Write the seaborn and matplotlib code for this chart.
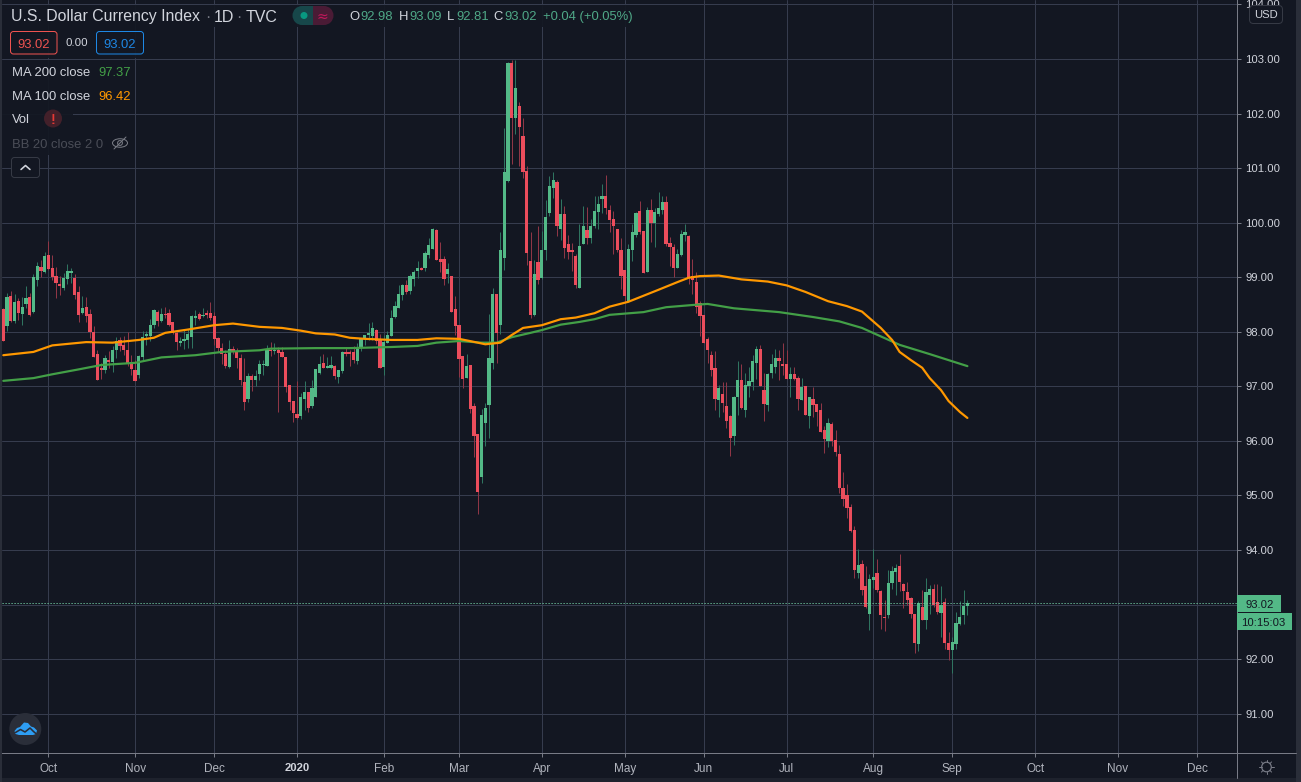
import numpy as np
import pandas as pd
import matplotlib
matplotlib.use("Agg")
import matplotlib.pyplot as plt
from matplotlib.patches import Rectangle, FancyBboxPatch, Circle, Ellipse, Polygon
import seaborn as sns

# ---------- data ----------
open_ = [
98.42,98.11,98.66,98.20,98.57,98.33,98.50,98.64,98.37,98.95,
99.19,99.10,99.41,99.17,99.03,98.88,98.81,98.97,99.08,98.99,
98.72,98.35,98.46,98.33,98.00,97.60,97.34,97.30,97.49,97.45,
97.67,97.85,97.76,97.67,97.45,97.30,97.21,97.54,97.93,97.93,
98.13,98.37,98.20,98.33,98.35,98.17,97.98,97.80,97.83,97.85,
97.91,98.26,98.33,98.28,98.34,98.35,98.28,97.89,97.71,97.60,
97.36,97.69,97.65,97.52,97.08,96.77,97.18,97.12,97.23,97.39,
97.37,97.67,97.65,97.67,97.63,97.54,97.03,96.73,96.49,96.46,
96.77,96.90,96.64,96.81,97.24,97.43,97.34,97.34,97.37,97.17,
97.28,97.63,97.63,97.63,97.47,97.70,97.87,97.94,97.92,98.03,
97.87,97.36,97.80,97.92,98.27,98.44,98.67,98.86,98.75,98.97,
99.11,99.17,99.17,99.41,99.52,99.87,99.33,99.33,99.06,99.02,
98.42,98.13,97.56,97.15,97.39,96.63,96.12,95.33,96.32,96.65,
97.43,98.70,98.13,99.36,100.77,102.93,101.92,102.14,101.59,100.95,
99.30,98.30,99.27,98.99,99.50,100.18,100.64,100.75,99.89,100.15,
99.60,99.49,99.39,98.81,99.61,99.87,99.71,99.93,100.20,100.44,
100.49,100.24,100.06,99.89,99.49,99.14,98.57,99.49,99.78,100.22,
99.84,99.10,100.24,100.00,100.16,100.24,100.37,99.63,99.56,99.16,
99.41,99.78,99.76,99.02,98.92,98.52,98.30,97.86,97.58,97.33,
96.74,96.85,96.63,96.45,96.08,96.80,97.11,96.56,97.00,97.07,
97.42,97.68,96.94,96.65,97.24,97.35,97.51,97.40,97.40,97.14,
97.22,97.16,96.74,97.00,96.45,96.76,96.67,96.56,96.19,95.99,
96.30,96.02,95.75,95.14,95.00,94.78,94.36,93.57,93.75,93.33,
92.82,93.44,93.57,93.24,92.78,92.80,93.39,93.59,93.70,93.37,
93.22,93.11,92.83,92.27,92.96,92.71,93.18,93.29,93.04,92.85,
93.04,92.30,92.17,92.27,92.65,92.80,92.98]
high = [
98.43,98.71,98.75,98.69,98.62,98.64,98.84,98.71,99.06,99.28,
99.32,99.46,99.67,99.41,99.19,99.03,99.08,99.25,99.17,99.06,
98.83,98.66,98.64,98.42,98.11,97.67,97.43,97.57,97.65,97.73,
97.91,97.91,97.93,98.00,97.58,97.49,97.58,98.02,98.01,98.24,
98.42,98.40,98.43,98.45,98.42,98.17,98.04,97.91,98.05,98.05,
98.31,98.39,98.36,98.43,98.39,98.55,98.37,97.91,97.79,97.67,
97.85,97.73,97.70,97.60,97.52,97.24,97.23,97.30,97.49,97.48,
97.76,97.81,97.79,97.72,97.72,97.54,97.03,96.73,97.09,96.88,
97.10,96.90,97.12,97.32,97.56,97.59,97.54,97.56,97.39,97.30,
97.65,97.72,97.67,97.73,97.79,97.89,97.94,98.16,98.18,98.05,
97.96,97.94,98.02,98.40,98.57,98.86,98.88,98.95,99.06,99.13,
99.29,99.19,99.48,99.72,99.90,99.88,99.65,99.39,99.26,99.02,
98.66,98.13,97.56,97.59,97.39,96.70,96.12,96.59,96.70,98.32,
98.81,98.70,99.83,101.74,102.95,102.99,102.99,102.22,101.91,101.03,
99.82,99.32,99.94,99.85,100.42,100.86,100.93,100.79,100.44,100.31,
99.78,99.63,99.43,99.98,100.31,100.29,100.07,100.48,100.49,100.70,
100.88,100.33,100.22,99.89,99.72,99.14,99.60,99.98,100.20,100.40,
99.84,100.29,100.44,100.27,100.57,100.49,100.48,99.74,99.60,99.52,
99.87,99.98,99.78,99.34,99.10,98.56,98.30,97.91,97.64,97.64,
97.03,97.07,97.07,96.47,96.83,97.46,97.40,97.25,97.35,97.58,
97.73,97.75,97.25,97.24,97.60,97.69,97.66,97.80,97.66,97.35,
97.36,97.18,97.16,97.00,96.81,96.98,96.67,96.70,96.27,96.41,
96.34,96.19,95.93,95.42,95.20,94.85,94.43,94.01,93.81,93.70,
93.55,94.01,93.84,93.26,93.09,93.64,93.70,93.75,93.92,93.40,
93.42,93.13,92.83,93.06,93.26,93.48,93.35,93.37,93.37,93.33,
93.11,92.49,92.41,92.87,93.07,93.26,93.09]
low = [
97.83,98.02,98.17,98.16,98.21,98.13,98.44,98.28,98.35,98.83,
99.01,99.08,99.14,98.94,98.62,98.68,98.76,98.88,98.89,98.60,
98.18,98.33,98.18,97.89,97.54,97.12,97.14,97.25,97.34,97.27,
97.52,97.65,97.58,97.37,97.21,97.10,97.16,97.49,97.76,97.83,
98.06,98.11,98.18,98.25,98.10,97.95,97.67,97.74,97.69,97.71,
97.70,98.13,98.22,98.27,98.25,98.22,97.76,97.62,97.41,97.34,
97.33,97.60,97.33,97.03,96.57,96.71,96.92,97.00,97.12,97.21,
97.37,97.56,97.59,96.53,97.54,96.90,96.57,96.35,96.40,96.40,
96.57,96.53,96.60,96.81,97.23,97.34,97.34,97.32,97.14,97.06,
97.24,97.56,97.37,97.43,97.41,97.65,97.76,97.85,97.85,97.78,
97.34,97.21,97.79,97.92,98.25,98.44,98.58,98.69,98.69,98.84,
98.99,99.13,99.11,99.35,99.52,99.32,99.10,98.86,98.89,98.36,
97.94,97.17,96.97,97.15,96.51,95.70,94.65,95.22,95.90,96.06,
97.32,97.43,97.96,99.14,100.75,101.08,101.63,101.04,100.82,99.23,
98.26,98.28,98.88,98.96,99.32,100.13,100.46,99.76,99.69,99.36,
99.34,99.12,98.81,98.81,99.60,99.61,99.63,99.91,99.89,100.18,
100.16,99.82,99.43,99.47,98.79,98.55,98.55,99.29,99.74,99.80,
99.08,99.10,99.65,99.56,100.13,100.16,99.58,99.21,99.00,99.16,
99.39,99.67,98.88,98.70,98.34,97.93,97.80,97.42,97.18,96.56,
96.43,96.52,96.23,95.72,95.93,96.48,96.58,96.43,96.80,96.94,
97.14,97.00,96.37,96.54,97.16,97.25,97.11,97.20,97.14,96.80,
97.11,96.56,96.74,96.47,96.23,96.43,96.27,96.17,95.77,95.88,
95.90,95.73,95.04,94.81,94.58,94.32,93.48,93.48,93.17,92.93,
92.54,93.31,93.22,92.56,92.51,92.76,93.29,93.17,93.24,92.93,
93.00,92.76,92.12,92.14,92.72,92.56,92.83,92.96,92.83,92.41,
92.19,91.99,91.74,92.19,92.63,92.65,92.81]
close = [
97.83,98.64,98.20,98.55,98.35,98.46,98.62,98.31,99.01,99.21,
99.12,99.39,99.15,99.01,98.89,98.83,98.99,99.12,99.12,98.68,
98.31,98.44,98.29,98.00,97.54,97.12,97.30,97.52,97.45,97.67,
97.83,97.73,97.67,97.43,97.32,97.10,97.56,97.91,97.95,98.13,
98.40,98.20,98.33,98.31,98.13,97.98,97.82,97.83,97.87,97.96,
98.28,98.29,98.24,98.31,98.31,98.26,97.87,97.71,97.60,97.38,
97.69,97.63,97.51,97.12,96.72,97.18,97.12,97.19,97.41,97.41,
97.69,97.65,97.67,97.61,97.54,96.99,96.71,96.51,96.42,96.81,
96.90,96.60,96.97,97.32,97.41,97.34,97.37,97.39,97.19,97.30,
97.63,97.59,97.59,97.48,97.69,97.89,97.94,97.98,98.07,97.83,
97.34,97.81,97.94,98.25,98.47,98.69,98.86,98.73,99.02,99.10,
99.17,99.13,99.45,99.59,99.88,99.32,99.28,98.97,99.15,98.36,
98.11,97.50,97.14,97.37,96.59,96.08,95.06,96.48,96.61,97.51,
98.70,97.98,99.50,100.92,102.93,101.92,102.47,101.76,100.92,99.45,
98.30,99.05,98.94,99.49,100.11,100.68,100.79,99.94,100.16,99.54,
99.47,99.47,98.85,99.58,99.94,99.71,99.94,100.22,100.35,100.49,
100.27,100.04,99.94,99.49,99.03,98.66,99.52,99.82,100.18,99.82,
99.08,100.24,100.00,100.20,100.27,100.37,99.60,99.56,99.16,99.43,
99.80,99.82,98.99,98.94,98.46,98.28,97.80,97.67,97.29,96.76,
96.96,96.70,96.37,96.05,96.81,97.11,96.61,97.03,97.09,97.46,
97.68,97.00,96.67,97.22,97.40,97.51,97.46,97.38,97.14,97.22,
97.14,96.76,96.98,96.47,96.80,96.65,96.52,96.17,96.03,96.32,
96.00,95.80,95.14,94.94,94.76,94.34,93.64,93.73,93.26,92.96,
93.46,93.51,93.26,92.80,92.76,93.40,93.62,93.66,93.42,93.24,
93.09,92.82,92.30,93.02,92.72,93.22,93.29,93.00,92.87,93.00,
92.29,92.16,92.32,92.67,92.78,92.98,93.02]

ma100_days = [0,8,13,22,29,36,40,43,49,56,61,68,74,79,83,88,92,96,103,110,115,121,
              126,128,132,135,138,143,148,152,157,161,166,170,174,179,182,185,190,
              196,203,208,213,219,224,228,230,233,236,238,241,244,246,249,251,254,256]
ma100_vals = [97.57,97.63,97.75,97.81,97.80,97.85,97.89,97.98,98.04,98.12,98.15,98.09,
              98.07,98.02,97.97,97.95,97.89,97.87,97.85,97.85,97.88,97.87,
              97.80,97.77,97.80,97.94,98.07,98.12,98.23,98.26,98.34,98.46,98.55,98.66,
              98.77,98.91,98.99,99.02,99.03,98.96,98.92,98.85,98.73,98.56,98.47,98.37,
              98.25,98.07,97.85,97.63,97.48,97.34,97.15,96.93,96.73,96.53,96.42]
ma200_days = [0,8,13,20,26,35,42,51,58,68,71,83,92,103,110,115,121,127,131,135,140,143,
              148,153,157,161,170,176,183,187,194,206,215,222,228,238,246,256]
ma200_vals = [97.10,97.15,97.22,97.31,97.39,97.43,97.53,97.57,97.63,97.66,97.69,97.70,
              97.70,97.72,97.74,97.80,97.83,97.80,97.80,97.90,97.98,98.03,98.13,98.18,
              98.23,98.31,98.36,98.45,98.49,98.51,98.43,98.36,98.27,98.19,98.07,97.76,
              97.59,97.37]

x_tick_days = [12,35,56,78,101,121,143,165,186,208,231,252,274,296,317]
x_tick_labels = ["Oct","Nov","Dec","2020","Feb","Mar","Apr","May","Jun","Jul","Aug","Sep","Oct","Nov","Dec"]
y_ticks = list(range(91, 105))
last_price = 93.02

# ---------- style ----------
BG = "#131722"; GRID = "#363c4e"; AXIS = "#787b86"; TXT = "#d1d4dc"
UP = "#53b987"; DOWN = "#eb4d5c"; UPW = "#2f7460"; DOWNW = "#8f3646"
sns.set_theme(style="dark", rc={"axes.facecolor": BG, "figure.facecolor": BG})
plt.rcParams["font.family"] = ["Liberation Sans", "DejaVu Sans"]
PT = 0.72  # points per pixel at dpi 100

W, H = 1301, 782
fig = plt.figure(figsize=(W/100, H/100), dpi=100, facecolor=BG)
L_, R_, T_, B_ = 2.0, 1236.5, 0.0, 752.5
ax = fig.add_axes([L_/W, 1-B_/H, (R_-L_)/W, (B_-T_)/H], facecolor=BG)

# ---------- candles ----------
days = np.arange(len(close))
o, h, l, c = map(np.array, (open_, high, low, close))
up = c >= o
ax.vlines(days, l, h, colors=[UPW if u else DOWNW for u in up], linewidth=1*PT, zorder=2)
ax.bar(days, np.maximum(np.abs(c-o), 0.02), bottom=np.minimum(o, c), width=0.86,
       color=[UP if u else DOWN for u in up], linewidth=0, zorder=3)

# ---------- moving averages ----------
sns.lineplot(data=pd.DataFrame({"d": ma200_days, "v": ma200_vals}), x="d", y="v", ax=ax,
             color="#43a047", linewidth=2.2*PT, zorder=4, errorbar=None)
sns.lineplot(data=pd.DataFrame({"d": ma100_days, "v": ma100_vals}), x="d", y="v", ax=ax,
             color="#ff9800", linewidth=2.2*PT, zorder=5, errorbar=None)
ax.axhline(last_price, color="#6fc9a0", linestyle=(0, (1.2, 1.8)), linewidth=1*PT, zorder=6)

# ---------- axes ----------
ax.set_xlim((L_-3.3)/3.766, (R_-3.3)/3.766)
ax.set_ylim(103-(B_-59)/54.55, 103-(T_-59)/54.55)
ax.set_xlabel(""); ax.set_ylabel("")
ax.set_xticks(x_tick_days); ax.set_xticklabels(x_tick_labels)
ax.set_yticks(y_ticks); ax.set_yticklabels([f"{v:.2f}" for v in y_ticks])
ax.yaxis.tick_right()
ax.grid(True, color=GRID, linewidth=1*PT, zorder=0)
ax.set_axisbelow(True)
ax.tick_params(axis="y", length=4*PT, width=1*PT, color=AXIS, labelcolor=TXT,
               labelsize=11.2*PT, pad=5*PT, right=True, left=False)
ax.tick_params(axis="x", length=4*PT, width=1*PT, color=AXIS, labelcolor="#b2b5be",
               labelsize=11.8*PT, pad=6.2*PT, bottom=True)
for lab in ax.get_xticklabels():
    if lab.get_text() == "2020":
        lab.set_fontweight("bold"); lab.set_color(TXT); lab.set_fontsize(11.3*PT)
for s in ("top", "left"):
    ax.spines[s].set_visible(False)
for s in ("right", "bottom"):
    ax.spines[s].set_color(AXIS); ax.spines[s].set_linewidth(1*PT)

# ---------- chrome overlay, in pixel space ----------
ov = fig.add_axes([0, 0, 1, 1], facecolor="none", zorder=10)
ov.set_xlim(0, W); ov.set_ylim(H, 0); ov.axis("off")

def rect(x0, y0, x1, y1, fc, alpha=1.0, z=1):
    ov.add_patch(Rectangle((x0, y0), x1-x0, y1-y0, fc=fc, ec="none", alpha=alpha, zorder=z))
def text(x, y, s, color=TXT, size=13, ha="left", **kw):
    ov.text(x, y, s, color=color, fontsize=size*PT, ha=ha, va="center_baseline", zorder=5, **kw)
def box(x0, y0, x1, y1, ec, fc="none", r=3, z=2):
    ov.add_patch(FancyBboxPatch((x0+r, y0+r), x1-x0-2*r, y1-y0-2*r, boxstyle=f"round,pad={r},rounding_size={r}",
                                fc=fc, ec=ec, lw=1*PT, zorder=z))

# strips around the chart
rect(0, 0, 2, H, "#2a2e39")
rect(1296, 0, W, H, "#2a2e39")
rect(2, 778, 1296, H, "#1e222d")
ov.plot([1236.5, 1296], [752.5, 752.5], color=AXIS, lw=1*PT, zorder=2)
ov.plot([1236.5, 1236.5], [752.5, 778], color=AXIS, lw=1*PT, zorder=2)

# masks behind the legend rows
rect(2, 5, 640, 27, BG, .92)
rect(2, 27, 150, 58, BG, .92)
rect(2, 60, 134, 106, BG, .92)
rect(2, 106, 73, 130, BG, .92)
rect(2, 130, 134, 155, BG, .92)

# title row
text(11, 15.5, "U.S. Dollar Currency Index", size=15.85)
text(205, 15.5, "·", color="#787b86", size=16)
text(214, 15.5, "1D", size=16)
text(236.5, 15.5, "·", color="#787b86", size=16)
text(246, 15.5, "TVC", size=16)
rect(302, 6, 313, 25, "#17474a", z=2); ov.add_patch(Circle((302, 15.5), 9.5, fc="#17474a", ec="none", zorder=2))
rect(313, 6, 324, 25, "#4a1b35", z=2); ov.add_patch(Circle((324, 15.5), 9.5, fc="#4a1b35", ec="none", zorder=2))
ov.add_patch(Circle((304, 15.5), 3.5, fc="#089981", ec="none", zorder=3))
text(322, 15.5, "≈", color="#c2185b", size=14, ha="center", fontfamily="DejaVu Sans")
GV = "#4fa887"
for x, s, col in [(349, "O", TXT), (360, "92.98", GV), (399, "H", TXT), (409, "93.09", GV),
                  (447, "L", TXT), (456, "92.81", GV), (493, "C", TXT), (504, "93.02", GV),
                  (543, "+0.04 (+0.05%)", GV)]:
    text(x, 15.5, s, color=col, size=13)

# price boxes
box(10.5, 31.5, 57, 54, "#ef5350")
text(34, 43, "93.02", color="#ef5350", ha="center")
text(77, 42.5, "0.00", size=11.5, ha="center")
box(96.5, 31.5, 143.5, 54, "#1e88e5")
text(120, 43, "93.02", color="#1e88e5", ha="center")

# indicator rows
text(11.5, 71, "MA 200 close"); text(98, 71, "97.37", color="#43a047")
text(11.5, 95, "MA 100 close"); text(98, 95, "96.42", color="#ff9800")
text(11.5, 118.5, "Vol")
ov.add_patch(Circle((53, 118.5), 9, fc="#43202a", ec="none", zorder=2))
text(53, 118.5, "!", color="#e53935", size=14, ha="center", fontweight="bold")
text(11.5, 143, "BB 20 close 2 0", color="#4a4d57")
ov.add_patch(Ellipse((120, 143), 15, 8.5, fc="none", ec="#7a7d86", lw=1*PT, zorder=3))
ov.add_patch(Circle((120, 143), 2.4, fc="none", ec="#7a7d86", lw=1*PT, zorder=3))
ov.plot([114, 126], [149, 137], color="#7a7d86", lw=1*PT, zorder=3)
box(11.5, 157.5, 39.5, 177.5, "#363a45", fc=BG)
ov.plot([21, 25.5, 30], [169.5, 165.5, 169.5], color=TXT, lw=1.6*PT, zorder=3)

# USD button
box(1249.5, 5.5, 1282.5, 23.5, "#363a45", fc=BG, r=4)
text(1266, 14.5, "USD", size=11.2, ha="center")

# price tags
rect(1236.5, 595, 1281, 612, UP, z=3)
text(1245, 603.8, "93.02", color="#131722", size=11.2)
rect(1237, 613, 1292, 630, UP, z=3)
text(1241, 621.5, "10:15:03", color="#131722", size=11.2)

# gear
ov.add_patch(Circle((1266.5, 767), 4.8, fc="none", ec="#787b86", lw=1.2*PT, zorder=3))
for a in np.linspace(0, 2*np.pi, 8, endpoint=False):
    ov.plot([1266.5+4.8*np.cos(a), 1266.5+7.2*np.cos(a)], [767+4.8*np.sin(a), 767+7.2*np.sin(a)],
            color="#787b86", lw=1*PT, zorder=3)

# logo
ov.add_patch(Circle((25.3, 729), 16, fc="#2a2e39", ec="none", zorder=3))
ov.add_patch(Polygon([(14.5, 731), (17, 728), (20, 727), (24, 722.5), (28, 723), (31, 726.5),
                      (34, 727.5), (37, 730.5), (36, 734), (33, 735), (19, 735), (15.5, 734)],
                     closed=True, fc="#2e9ef4", ec="none", zorder=4))
ov.plot([15.5, 20.5, 25, 30, 33.5, 37], [732.5, 729.5, 732, 728, 731.5, 734.5], color="#2a2e39", lw=1.6*PT, zorder=5)

fig.savefig("out.png", dpi=100, facecolor=BG)
